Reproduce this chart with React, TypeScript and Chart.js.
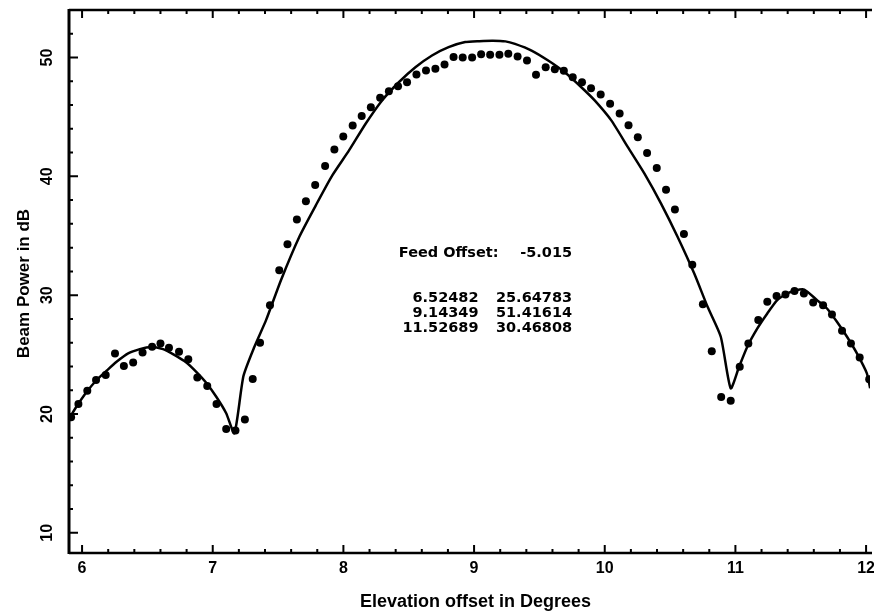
import React, { useEffect, useRef } from "react";
import { Chart, registerables } from "chart.js";

Chart.register(...registerables);

// Measured beam power (dB) against elevation offset (degrees)
const obsElevation = [
  5.916, 5.972, 6.04, 6.107, 6.181, 6.252, 6.32, 6.391, 6.463, 6.536,
  6.6, 6.665, 6.742, 6.813, 6.882, 6.958, 7.029, 7.103, 7.174, 7.246,
  7.306, 7.362, 7.438, 7.509, 7.572, 7.644, 7.713, 7.784, 7.86, 7.931,
  7.999, 8.071, 8.14, 8.21, 8.281, 8.348, 8.418, 8.487, 8.559, 8.632,
  8.704, 8.774, 8.843, 8.913, 8.985, 9.054, 9.123, 9.194, 9.262, 9.333,
  9.405, 9.474, 9.548, 9.618, 9.687, 9.755, 9.826, 9.895, 9.969, 10.041,
  10.114, 10.182, 10.253, 10.324, 10.398, 10.469, 10.537, 10.606, 10.67, 10.751,
  10.819, 10.891, 10.964, 11.033, 11.099, 11.175, 11.244, 11.315, 11.383, 11.452,
  11.524, 11.595, 11.671, 11.739, 11.816, 11.884, 11.951, 12.024,
];
const obsPower = [
  19.72, 20.84, 21.96, 22.86, 23.28, 25.1, 24.03, 24.34, 25.18, 25.66,
  25.94, 25.57, 25.24, 24.6, 23.08, 22.35, 20.84, 18.74, 18.6, 19.54,
  22.94, 25.99, 29.16, 32.1, 34.29, 36.36, 37.9, 39.27, 40.88, 42.25,
  43.36, 44.27, 45.08, 45.82, 46.61, 47.17, 47.59, 47.92, 48.57, 48.91,
  49.05, 49.41, 50.04, 50.0, 50.0, 50.27, 50.23, 50.23, 50.31, 50.08,
  49.75, 48.55, 49.18, 49.02, 48.88, 48.34, 47.92, 47.42, 46.89, 46.11,
  45.29, 44.29, 43.3, 41.96, 40.7, 38.88, 37.2, 35.14, 32.56, 29.24,
  25.29, 21.43, 21.12, 23.97, 25.94, 27.9, 29.44, 29.92, 30.06, 30.34,
  30.14, 29.39, 29.16, 28.38, 27.0, 25.94, 24.76, 22.92,
];

// Fitted lobe peaks
const feedOffset = "-5.015";
const peakElevation = ["6.52482", "9.14349", "11.52689"];
const peakPower = ["25.64783", "51.41614", "30.46808"];

// Fitted beam pattern
const fitElevation = [
  5.9, 5.96, 6.036, 6.112, 6.188, 6.264, 6.353, 6.442, 6.52482, 6.62,
  6.709, 6.798, 6.874, 6.95, 7.027, 7.103, 7.166, 7.235, 7.319, 7.408,
  7.522, 7.662, 7.789, 7.915, 8.043, 8.17, 8.296, 8.424, 8.551, 8.678,
  8.805, 8.932, 9.04, 9.14349, 9.24, 9.313, 9.44, 9.567, 9.694, 9.821,
  9.923, 10.05, 10.177, 10.304, 10.431, 10.558, 10.685, 10.787, 10.888, 10.964,
  11.028, 11.091, 11.168, 11.244, 11.32, 11.396, 11.46, 11.52689, 11.625, 11.701,
  11.777, 11.854, 11.93, 12.006, 12.031,
];
const fitPower = [
  19.6, 20.67, 21.87, 22.86, 23.64, 24.39, 25.1, 25.46, 25.64783, 25.46,
  24.96, 24.34, 23.55, 22.63, 21.45, 20.06, 18.38, 23.19, 25.66, 27.9,
  31.26, 34.9, 37.56, 40.08, 42.18, 44.43, 46.39, 47.92, 49.18, 50.17,
  50.87, 51.3, 51.38, 51.41614, 51.36, 51.15, 50.59, 49.75, 48.76, 47.5,
  46.39, 44.71, 42.46, 40.23, 37.71, 34.9, 31.82, 29.02, 26.5, 22.16,
  23.97, 25.66, 27.2, 28.46, 29.58, 30.14, 30.4, 30.46808, 29.58, 28.88,
  27.76, 26.5, 25.1, 23.42, 22.16,
];

const xMajorTicks = [6, 7, 8, 9, 10, 11, 12];
const yMajorTicks = [10, 20, 30, 40, 50];
const xTitle = "Elevation offset in Degrees";
const yTitle = "Beam Power in dB";

const X_MIN = 5.9;
const X_MAX = 12.03;
const Y_MIN = 8.3;
const Y_MAX = 54;

const TICK_FONT = "bold 16px 'Liberation Sans', Arial, sans-serif";
const TITLE_X_FONT = "bold 18px 'Liberation Sans', Arial, sans-serif";
const TITLE_Y_FONT = "bold 17px 'Liberation Sans', Arial, sans-serif";
const NOTE_FONT = "bold 14.5px 'DejaVu Sans', sans-serif";

// Draws the frame with inward ticks, tick labels, axis titles and the fit summary
const framePlugin = {
  id: "frame",
  afterDraw(chart: any) {
    const { ctx, chartArea: a, scales } = chart;
    const xs = scales.x;
    const ys = scales.y;
    ctx.save();
    ctx.strokeStyle = "#000";
    ctx.fillStyle = "#000";
    ctx.lineCap = "butt";

    // axis lines
    ctx.lineWidth = 3;
    ctx.beginPath();
    ctx.moveTo(a.left, a.top - 1);
    ctx.lineTo(a.left, a.bottom + 1);
    ctx.stroke();
    ctx.lineWidth = 2.5;
    ctx.beginPath();
    ctx.moveTo(a.left, a.top);
    ctx.lineTo(a.right + 2, a.top);
    ctx.moveTo(a.left, a.bottom);
    ctx.lineTo(a.right + 2, a.bottom);
    ctx.stroke();

    // x ticks (bottom and top), minor every 0.2
    ctx.lineWidth = 2;
    ctx.beginPath();
    for (let i = Math.ceil(X_MIN * 5); i <= Math.floor(X_MAX * 5); i++) {
      const v = i / 5;
      const major = i % 5 === 0;
      const len = major ? 8 : 4;
      const px = xs.getPixelForValue(v);
      ctx.moveTo(px, a.bottom);
      ctx.lineTo(px, a.bottom - len);
      ctx.moveTo(px, a.top);
      ctx.lineTo(px, a.top + len);
    }
    // y ticks (left), minor every 2
    for (let i = Math.ceil(Y_MIN / 2); i <= Math.floor(Y_MAX / 2); i++) {
      const v = i * 2;
      const major = v % 10 === 0;
      const len = major ? 9 : 4;
      const py = ys.getPixelForValue(v);
      ctx.moveTo(a.left, py);
      ctx.lineTo(a.left + len, py);
    }
    ctx.stroke();

    // tick labels
    ctx.font = TICK_FONT;
    ctx.textAlign = "center";
    ctx.textBaseline = "middle";
    xMajorTicks.forEach((v) => {
      ctx.fillText(String(v), xs.getPixelForValue(v), a.bottom + 16);
    });
    yMajorTicks.forEach((v) => {
      ctx.save();
      ctx.translate(a.left - 21.5, ys.getPixelForValue(v));
      ctx.rotate(-Math.PI / 2);
      ctx.fillText(String(v), 0, 0);
      ctx.restore();
    });

    // axis titles
    ctx.font = TITLE_X_FONT;
    ctx.fillText(xTitle, (a.left + a.right) / 2 + 6, a.bottom + 49);
    ctx.font = TITLE_Y_FONT;
    ctx.save();
    ctx.translate(24.5, (a.top + a.bottom) / 2 + 2);
    ctx.rotate(-Math.PI / 2);
    ctx.fillText(yTitle, 0, 0);
    ctx.restore();

    // fit summary
    ctx.font = NOTE_FONT;
    const left = xs.getPixelForValue(8.424);
    const col1 = xs.getPixelForValue(9.034);
    const col2 = xs.getPixelForValue(9.75);
    ctx.textAlign = "left";
    ctx.fillText("Feed Offset:", left, ys.getPixelForValue(33.53));
    ctx.textAlign = "right";
    ctx.fillText(feedOffset, col2, ys.getPixelForValue(33.53));
    const rows = [29.75, 28.49, 27.23];
    peakElevation.forEach((e, i) => {
      const py = ys.getPixelForValue(rows[i]);
      ctx.fillText(e, col1, py);
      ctx.fillText(peakPower[i], col2, py);
    });
    ctx.restore();
  },
};

export default function App() {
  const canvasRef = useRef<HTMLCanvasElement | null>(null);

  useEffect(() => {
    document.body.style.margin = "0";
    const canvas = canvasRef.current;
    if (!canvas) return;
    const chart = new Chart(canvas, {
      type: "scatter",
      data: {
        datasets: [
          {
            type: "line",
            label: "fit",
            data: fitElevation.map((x, i) => ({ x, y: fitPower[i] })),
            borderColor: "#000",
            borderWidth: 2.5,
            pointRadius: 0,
            tension: 0.2,
            fill: false,
          } as any,
          {
            label: "measured",
            data: obsElevation.map((x, i) => ({ x, y: obsPower[i] })),
            backgroundColor: "#000",
            borderColor: "#000",
            pointRadius: 4,
            borderWidth: 0,
            showLine: false,
          },
        ],
      },
      options: {
        animation: false,
        responsive: false,
        devicePixelRatio: 1,
        layout: { padding: { top: 10, right: 1, left: 0, bottom: 0 } },
        plugins: {
          legend: { display: false },
          tooltip: { enabled: false },
        },
        scales: {
          x: {
            type: "linear",
            min: X_MIN,
            max: X_MAX,
            grid: { display: false },
            border: { display: false },
            ticks: { display: false },
            afterFit: (s: any) => {
              s.height = 60;
            },
          },
          y: {
            type: "linear",
            min: Y_MIN,
            max: Y_MAX,
            grid: { display: false },
            border: { display: false },
            ticks: { display: false },
            afterFit: (s: any) => {
              s.width = 69;
            },
          },
        },
      },
      plugins: [framePlugin],
    });
    return () => chart.destroy();
  }, []);

  return (
    <div style={{ position: "fixed", left: 0, top: 0, width: 874, height: 613, background: "#fff" }}>
      <canvas ref={canvasRef} width={874} height={613} style={{ width: 874, height: 613, display: "block" }} />
    </div>
  );
}
